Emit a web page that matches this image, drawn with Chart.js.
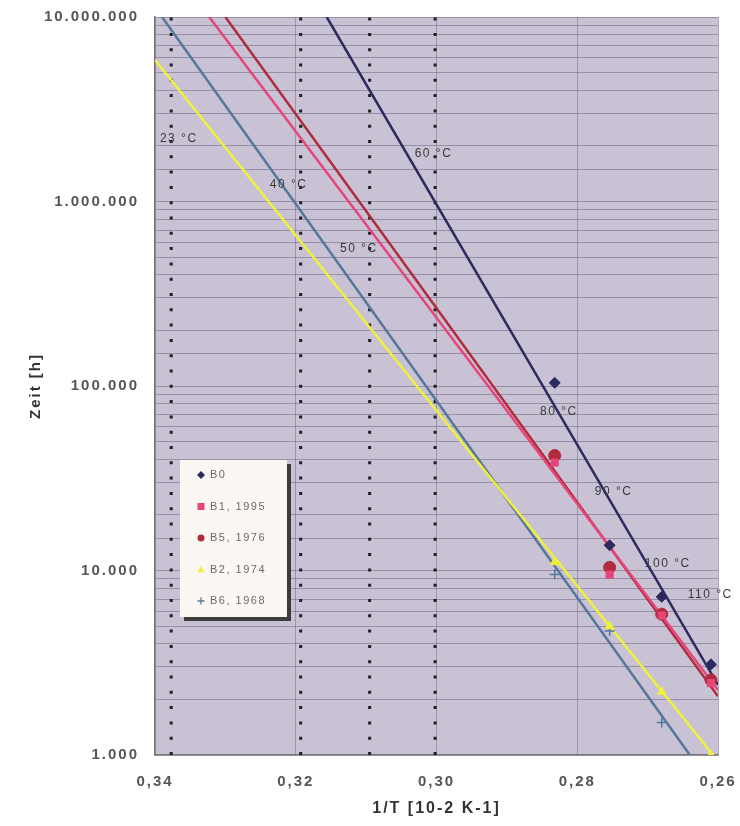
<!DOCTYPE html>
<html>
<head>
<meta charset="utf-8">
<script src="https://cdn.jsdelivr.net/npm/chart.js@4.4.0/dist/chart.umd.min.js"></script>
<style>
html, body { margin: 0; padding: 0; background: #fff; }
#wrap { width: 740px; height: 826px; }
</style>
</head>
<body>
<div id="wrap"><canvas id="grafico" width="740" height="826"></canvas></div>
<script>
// Messpunkte: 1/T bei 80, 90, 100, 110 °C
const xPunkte = [0.2832, 0.2754, 0.2680, 0.2610];
const serienNamen = ['B0', 'B1, 1995', 'B5, 1976', 'B2, 1974', 'B6, 1968'];
const werteB0 = [104000, 13700, 7200, 3100];
const werteB1 = [38500, 9500, 5700, 2450];
const werteB5 = [42000, 10400, 5800, 2550];
const werteB2 = [11100, 5000, 2200, 1000];
const werteB6 = [9500, 4700, 1500, null];

// Trendlinien: Anfang und Ende [1/T, Zeit]
const trendB0 = [[0.3156, 10000000], [0.26, 2400]];
const trendB1 = [[0.3323, 10000000], [0.26, 2250]];
const trendB5 = [[0.3300, 10000000], [0.26, 2080]];
const trendB2 = [[0.34, 5850000], [0.2607, 1000]];
const trendB6 = [[0.3390, 10000000], [0.2640, 1000]];

// gepunktete Temperaturlinien (23, 40, 50, 60 °C)
const tempLinienX = [0.3377, 0.3193, 0.3095, 0.3002];

// Temperaturbeschriftungen
const tempTexte = ['23 °C', '40 °C', '50 °C', '60 °C', '80 °C', '90 °C', '100 °C', '110 °C'];
const tempTextX = [0.3393, 0.3237, 0.3137, 0.3031, 0.2853, 0.2775, 0.2704, 0.2643];
const tempTextY = [2180000, 1230000, 558000, 1810000, 73000, 26900, 10900, 7430];

// Achsen
const xMin = 0.26, xMax = 0.34, xSchritt = 0.02;
const yMin = 1000, yMax = 10000000;

const farben = ['#2c2a5e', '#e8447c', '#b02c3c', '#eef03c', '#56789a'];
const formen = ['rectRot', 'rect', 'circle', 'triangle', 'cross'];
const werte = [werteB0, werteB1, werteB5, werteB2, werteB6];
const trends = [trendB0, trendB1, trendB5, trendB2, trendB6];

function zahlFormat(v) {
    return String(Math.round(v)).replace(/\B(?=(\d{3})+(?!\d))/g, '.');
}

const datasets = [];

// Messpunkte
werte.forEach(function(reihe, i) {
    datasets.push({
        type: 'scatter',
        label: serienNamen[i],
        data: xPunkte.map(function(x, j) { return { x: x, y: reihe[j] }; }).filter(function(p) { return p.y !== null; }),
        pointStyle: formen[i],
        pointRadius: formen[i] === 'rectRot' ? 5.5 : (formen[i] === 'circle' ? 6 : 5),
        backgroundColor: farben[i],
        borderColor: farben[i],
        borderWidth: formen[i] === 'cross' ? 1.5 : 1,
        order: 0
    });
});

// Trendlinien
trends.forEach(function(t, i) {
    datasets.push({
        type: 'line',
        label: 'trend ' + serienNamen[i],
        data: t.map(function(p) { return { x: p[0], y: p[1] }; }),
        borderColor: farben[i],
        borderWidth: 2.5,
        pointRadius: 0,
        fill: false,
        order: 1
    });
});

// Temperaturlinien
tempLinienX.forEach(function(x) {
    datasets.push({
        type: 'line',
        label: 'temp',
        data: [{ x: x, y: yMin }, { x: x, y: yMax }],
        borderColor: '#1e1e1e',
        borderWidth: 3,
        borderDash: [3, 12.3],
        borderCapStyle: 'butt',
        pointRadius: 0,
        fill: false,
        order: 2
    });
});

function zeichneMarker(ctx, form, x, y, r, farbe) {
    ctx.save();
    ctx.fillStyle = farbe;
    ctx.strokeStyle = farbe;
    ctx.lineWidth = 1.3;
    ctx.beginPath();
    if (form === 'rectRot') {
        ctx.moveTo(x, y - r); ctx.lineTo(x + r, y); ctx.lineTo(x, y + r); ctx.lineTo(x - r, y); ctx.closePath(); ctx.fill();
    } else if (form === 'rect') {
        ctx.rect(x - r, y - r, 2 * r, 2 * r); ctx.fill();
    } else if (form === 'circle') {
        ctx.arc(x, y, r, 0, Math.PI * 2); ctx.fill();
    } else if (form === 'triangle') {
        ctx.moveTo(x, y - r); ctx.lineTo(x + r, y + r * 0.8); ctx.lineTo(x - r, y + r * 0.8); ctx.closePath(); ctx.fill();
    } else {
        ctx.moveTo(x - r, y); ctx.lineTo(x + r, y); ctx.moveTo(x, y - r); ctx.lineTo(x, y + r); ctx.stroke();
    }
    ctx.restore();
}

const hintergrund = {
    id: 'hintergrund',
    beforeDraw: function(chart) {
        const a = chart.chartArea;
        const ctx = chart.ctx;
        ctx.save();
        ctx.fillStyle = '#c9c2d4';
        ctx.fillRect(a.left, a.top, a.right - a.left, a.bottom - a.top);
        ctx.restore();
        ctx.letterSpacing = '2px';
    }
};

const beschriftung = {
    id: 'beschriftung',
    afterDatasetsDraw: function(chart) {
        const ctx = chart.ctx;
        const xs = chart.scales.x, ys = chart.scales.y;
        ctx.save();
        ctx.letterSpacing = '1.5px';
        ctx.font = '12px "Liberation Sans", Arial, sans-serif';
        ctx.fillStyle = '#3a3a3a';
        ctx.textAlign = 'left';
        ctx.textBaseline = 'middle';
        tempTexte.forEach(function(t, i) {
            ctx.fillText(t, xs.getPixelForValue(tempTextX[i]), ys.getPixelForValue(tempTextY[i]));
        });
        ctx.restore();
    },
    afterDraw: function(chart) {
        // Legende im Diagramm
        const ctx = chart.ctx;
        const a = chart.chartArea;
        const bx = a.left + 25, by = a.top + 443, bw = 107, bh = 157;
        ctx.save();
        ctx.fillStyle = '#3c3c3c';
        ctx.fillRect(bx + 4, by + 4, bw, bh);
        ctx.fillStyle = '#fbf8f3';
        ctx.fillRect(bx, by, bw, bh);
        ctx.letterSpacing = '1.5px';
        ctx.font = '11px "Liberation Sans", Arial, sans-serif';
        ctx.textAlign = 'left';
        ctx.textBaseline = 'middle';
        serienNamen.forEach(function(n, i) {
            const y = by + 15 + i * 31.5;
            zeichneMarker(ctx, formen[i], bx + 21, y, formen[i] === 'rectRot' ? 4 : 3.5, farben[i]);
            ctx.fillStyle = '#6a6a6a';
            ctx.fillText(n, bx + 30, y);
        });
        ctx.restore();
    }
};

const config = {
    data: { datasets: datasets },
    options: {
        responsive: false,
        animation: false,
        layout: { padding: { left: 0, top: 17, right: 22, bottom: 0 } },
        plugins: {
            legend: { display: false },
            tooltip: { enabled: false }
        },
        scales: {
            x: {
                type: 'linear',
                reverse: true,
                min: xMin,
                max: xMax,
                afterFit: function(s) { s.height = 71; s.paddingLeft = 0; s.paddingRight = 0; },
                ticks: {
                    stepSize: xSchritt,
                    padding: 18,
                    color: '#555',
                    font: { size: 15, weight: 'bold', family: '"Liberation Sans", Arial, sans-serif' },
                    callback: function(v) { return v.toFixed(2).replace('.', ','); }
                },
                grid: { color: 'rgba(140,130,155,0.7)', lineWidth: 1, drawTicks: false },
                border: { color: '#777', width: 1.5 },
                title: {
                    display: true,
                    text: '1/T [10-2 K-1]',
                    color: '#333',
                    font: { size: 16, weight: 'bold', family: '"Liberation Sans", Arial, sans-serif' },
                    padding: { top: 4, bottom: 8 }
                }
            },
            y: {
                type: 'logarithmic',
                min: yMin,
                max: yMax,
                afterFit: function(s) { s.width = 155; s.paddingTop = 0; s.paddingBottom = 0; },
                ticks: {
                    autoSkip: false,
                    padding: 16,
                    color: '#555',
                    font: { size: 15, weight: 'bold', family: '"Liberation Sans", Arial, sans-serif' },
                    callback: function(v) {
                        const lg = Math.log10(v);
                        return Math.abs(lg - Math.round(lg)) < 1e-9 ? zahlFormat(v) : '';
                    }
                },
                grid: { color: 'rgba(110,100,130,0.55)', lineWidth: 1, drawTicks: false },
                border: { color: '#777', width: 1.5 },
                title: {
                    display: true,
                    text: 'Zeit [h]',
                    color: '#333',
                    font: { size: 15, weight: 'bold', family: '"Liberation Sans", Arial, sans-serif' },
                    padding: { top: 27, bottom: 0 }
                }
            }
        }
    },
    plugins: [hintergrund, beschriftung]
};

const ctx = document.getElementById('grafico').getContext('2d');
const grafico = new Chart(ctx, config);
</script>
</body>
</html>
